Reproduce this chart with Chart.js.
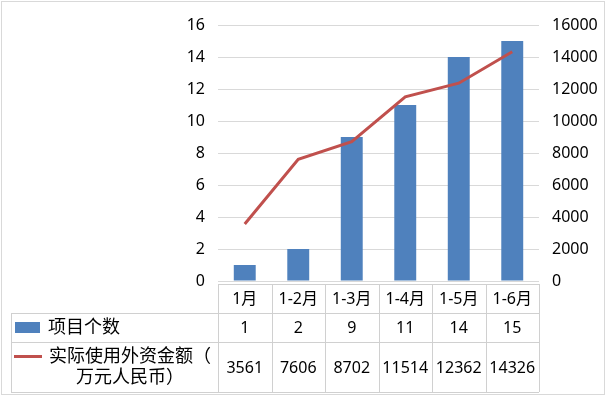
<!DOCTYPE html>
<html lang="zh">
<head>
    <meta charset="UTF-8">
    <title>项目个数与实际使用外资金额</title>
    <style>
        html, body { margin: 0; padding: 0; background: #fff; }
        .chart-box { width: 606px; height: 396px; }
    </style>
</head>
<body>
    <div class="chart-box">
        <canvas id="mainChart" width="606" height="396"></canvas>
    </div>

    <script src="https://cdn.jsdelivr.net/npm/chart.js"></script>
    <script>
        // Data
        const months = ['1月', '1-2月', '1-3月', '1-4月', '1-5月', '1-6月'];
        const projectCount = [1, 2, 9, 11, 14, 15];
        const foreignCapital = [3561, 7606, 8702, 11514, 12362, 14326];
        const seriesNames = ['项目个数', '实际使用外资金额（万元人民币）'];
        const leftTicks = { min: 0, max: 16, step: 2 };
        const rightTicks = { min: 0, max: 16000, step: 2000 };

        const BAR_COLOR = '#4f81bd';
        const LINE_COLOR = '#c0504d';
        const GRID_COLOR = '#d9d9d9';
        const TABLE_COLOR = '#d0d0d0';
        const FONT = '"Noto Sans", "Noto Sans CJK SC", sans-serif';

        // Splits a label into lines that fit in maxWidth
        function wrapText(ctx, text, maxWidth) {
            const lines = [];
            let line = '';
            for (const ch of text) {
                if (line && ctx.measureText(line + ch).width > maxWidth) {
                    lines.push(line);
                    line = ch;
                } else {
                    line += ch;
                }
            }
            if (line) lines.push(line);
            return lines;
        }

        // Outer border of the chart
        const frame = {
            id: 'frame',
            beforeDraw(chart) {
                const ctx = chart.ctx;
                ctx.save();
                ctx.fillStyle = '#fff';
                ctx.fillRect(0, 0, chart.width, chart.height);
                ctx.strokeStyle = GRID_COLOR;
                ctx.lineWidth = 1;
                ctx.strokeRect(1.5, 1.5, chart.width - 3, chart.height - 3);
                ctx.restore();
            }
        };

        // Excel-style data table under the plot
        const dataTable = {
            id: 'dataTable',
            afterDraw(chart) {
                const ctx = chart.ctx;
                const x = chart.scales.x;
                const left = x.left, right = x.right;
                const tableLeft = 11;
                const rows = [284, 313, 342, 392];
                const step = (right - left) / months.length;

                ctx.save();
                ctx.strokeStyle = TABLE_COLOR;
                ctx.lineWidth = 1;
                ctx.beginPath();
                ctx.moveTo(left, rows[0] + 0.5);
                ctx.lineTo(right, rows[0] + 0.5);
                for (let r = 1; r < rows.length; r++) {
                    ctx.moveTo(tableLeft, rows[r] + 0.5);
                    ctx.lineTo(right, rows[r] + 0.5);
                }
                ctx.moveTo(tableLeft + 0.5, rows[1]);
                ctx.lineTo(tableLeft + 0.5, rows[3]);
                for (let i = 0; i <= months.length; i++) {
                    const cx = Math.round(left + i * step) + 0.5;
                    ctx.moveTo(cx, rows[0]);
                    ctx.lineTo(cx, rows[3]);
                }
                ctx.stroke();

                ctx.fillStyle = '#000';
                ctx.textAlign = 'center';
                ctx.textBaseline = 'middle';
                ctx.font = '16px ' + FONT;
                months.forEach((m, i) => {
                    const cx = x.getPixelForValue(i);
                    ctx.fillText(m, cx, (rows[0] + rows[1]) / 2 + 1);
                    ctx.fillText(String(projectCount[i]), cx, (rows[1] + rows[2]) / 2 + 1);
                    ctx.fillText(String(foreignCapital[i]), cx, (rows[2] + rows[3]) / 2 + 1);
                });

                // legend keys
                ctx.fillStyle = BAR_COLOR;
                ctx.fillRect(15, 322, 25, 11);
                ctx.strokeStyle = LINE_COLOR;
                ctx.lineWidth = 3;
                ctx.beginPath();
                ctx.moveTo(14, 356.5);
                ctx.lineTo(42, 356.5);
                ctx.stroke();

                ctx.fillStyle = '#000';
                ctx.font = '18px ' + FONT;
                ctx.textAlign = 'left';
                ctx.fillText(seriesNames[0], 48, 328);
                ctx.textAlign = 'center';
                const lines = wrapText(ctx, seriesNames[1], 170);
                lines.forEach((ln, i) => {
                    ctx.fillText(ln, 130, 357 + i * 21);
                });
                ctx.restore();
            }
        };

        new Chart(document.getElementById('mainChart').getContext('2d'), {
            type: 'bar',
            data: {
                labels: months,
                datasets: [
                    {
                        type: 'line',
                        label: seriesNames[1],
                        data: foreignCapital,
                        yAxisID: 'y1',
                        borderColor: LINE_COLOR,
                        borderWidth: 3,
                        pointRadius: 0,
                        tension: 0,
                        fill: false,
                        order: 0
                    },
                    {
                        type: 'bar',
                        label: seriesNames[0],
                        data: projectCount,
                        yAxisID: 'y',
                        backgroundColor: BAR_COLOR,
                        categoryPercentage: 1,
                        barPercentage: 0.41,
                        order: 1
                    }
                ]
            },
            options: {
                responsive: false,
                animation: false,
                devicePixelRatio: 1,
                layout: { padding: { top: 25, bottom: 115, left: 0, right: 0 } },
                plugins: {
                    legend: { display: false },
                    tooltip: { enabled: false }
                },
                scales: {
                    x: { display: false },
                    y: {
                        position: 'left',
                        min: leftTicks.min,
                        max: leftTicks.max,
                        ticks: {
                            stepSize: leftTicks.step,
                            color: '#000',
                            padding: 13,
                            font: { family: FONT, size: 16 }
                        },
                        grid: { color: GRID_COLOR, drawTicks: false },
                        border: { display: false },
                        afterFit(scale) { scale.width = 218; }
                    },
                    y1: {
                        position: 'right',
                        min: rightTicks.min,
                        max: rightTicks.max,
                        ticks: {
                            stepSize: rightTicks.step,
                            color: '#000',
                            padding: 13,
                            font: { family: FONT, size: 16 },
                            callback: (v) => String(v)
                        },
                        grid: { display: false, drawTicks: false },
                        border: { display: false },
                        afterFit(scale) { scale.width = 67; }
                    }
                }
            },
            plugins: [frame, dataTable]
        });
    </script>
</body>
</html>
